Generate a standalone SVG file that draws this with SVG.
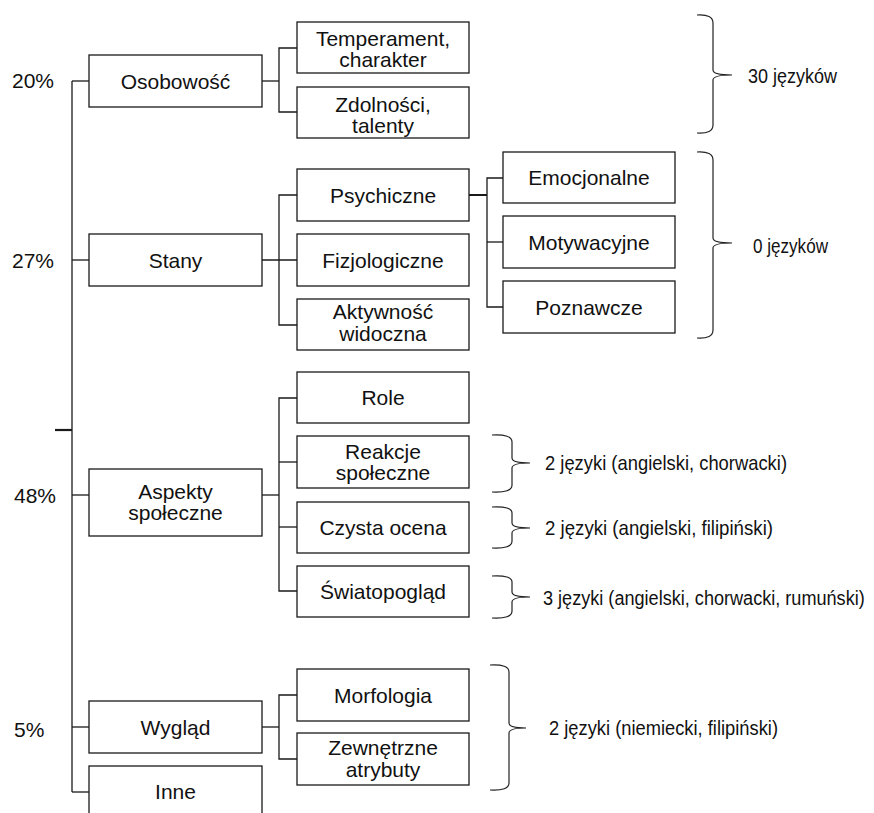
<svg xmlns="http://www.w3.org/2000/svg" width="874" height="813" viewBox="0 0 874 813">
<style>
rect.b{fill:#fff;stroke:#1a1a1a;stroke-width:1.3}
.c line,.c path{stroke:#1a1a1a;stroke-width:1.3;fill:none}
.br{stroke:#222;stroke-width:1.2;fill:none}
text{font-family:"Liberation Sans",Arial,sans-serif;font-size:21px;fill:#111}
text.m{text-anchor:middle}
text.n{font-size:21px}
</style>
<rect width="874" height="813" fill="#fff"/>
<g class="c" id="connectors">
<line x1="72" y1="81" x2="72" y2="792"/>
<line x1="55" y1="430" x2="72" y2="430" style="stroke-width:2.2"/>
<line x1="72" y1="81" x2="89" y2="81"/>
<line x1="72" y1="260" x2="89" y2="260"/>
<line x1="72" y1="495" x2="89" y2="495"/>
<line x1="72" y1="727" x2="89" y2="727"/>
<line x1="72" y1="792" x2="89" y2="792"/>
<line x1="262" y1="81" x2="279" y2="81"/>
<path d="M297,48 H279 V112 H297"/>
<line x1="262" y1="260" x2="297" y2="260"/>
<path d="M297,195 H279 V325 H297"/>
<line x1="469" y1="195" x2="487" y2="195" style="stroke-width:2"/>
<path d="M503,178 H487 V307 H503"/>
<line x1="487" y1="242" x2="503" y2="242"/>
<line x1="262" y1="495" x2="279" y2="495"/>
<path d="M297,398 H279 V591 H297"/>
<line x1="279" y1="462" x2="297" y2="462"/>
<line x1="279" y1="527" x2="297" y2="527"/>
<line x1="262" y1="727" x2="279" y2="727"/>
<path d="M297,695 H279 V759 H297"/>
</g>
<text x="12" y="88">20%</text>
<text x="12" y="268">27%</text>
<text x="14" y="503">48%</text>
<text x="14" y="737">5%</text>
<g id="osobowosc"><rect class="b" x="89" y="55" width="173" height="52"/><text class="m" x="175.5" y="88.5">Osobowość</text></g>
<g id="stany"><rect class="b" x="89" y="234" width="173" height="52"/><text class="m" x="175.5" y="267.5">Stany</text></g>
<g id="aspekty"><rect class="b" x="89" y="469" width="173" height="67"/><text class="m" x="175.5" y="499">Aspekty</text><text class="m" x="175.5" y="520">społeczne</text></g>
<g id="wyglad"><rect class="b" x="89" y="701" width="173" height="52"/><text class="m" x="175.5" y="734.5">Wygląd</text></g>
<g id="inne"><rect class="b" x="89" y="766" width="173" height="60"/><text class="m" x="175.5" y="799">Inne</text></g>
<g id="temperament"><rect class="b" x="297" y="22" width="172" height="51"/><text class="m" x="383" y="46">Temperament,</text><text class="m" x="383" y="67">charakter</text></g>
<g id="zdolnosci"><rect class="b" x="297" y="87" width="172" height="51"/><text class="m" x="383" y="112">Zdolności,</text><text class="m" x="383" y="133">talenty</text></g>
<g id="psychiczne"><rect class="b" x="297" y="169" width="172" height="52"/><text class="m" x="383" y="202.5">Psychiczne</text></g>
<g id="fizjologiczne"><rect class="b" x="297" y="234" width="172" height="52"/><text class="m" x="383" y="267.5">Fizjologiczne</text></g>
<g id="aktywnosc"><rect class="b" x="297" y="299" width="172" height="51"/><text class="m" x="383" y="319">Aktywność</text><text class="m" x="383" y="341">widoczna</text></g>
<g id="emocjonalne"><rect class="b" x="503" y="152" width="172" height="51"/><text class="m" x="589" y="185">Emocjonalne</text></g>
<g id="motywacyjne"><rect class="b" x="503" y="216" width="172" height="52"/><text class="m" x="589" y="249.5">Motywacyjne</text></g>
<g id="poznawcze"><rect class="b" x="503" y="281" width="172" height="52"/><text class="m" x="589" y="314.5">Poznawcze</text></g>
<g id="role"><rect class="b" x="297" y="372" width="172" height="51"/><text class="m" x="383" y="405">Role</text></g>
<g id="reakcje"><rect class="b" x="297" y="436" width="172" height="52"/><text class="m" x="383" y="459">Reakcje</text><text class="m" x="383" y="480">społeczne</text></g>
<g id="czysta"><rect class="b" x="297" y="502" width="172" height="51"/><text class="m" x="383" y="535">Czysta ocena</text></g>
<g id="swiatopoglad"><rect class="b" x="297" y="566" width="172" height="51"/><text class="m" x="383" y="599">Światopogląd</text></g>
<g id="morfologia"><rect class="b" x="297" y="669" width="172" height="52"/><text class="m" x="383" y="702.5">Morfologia</text></g>
<g id="zewnetrzne"><rect class="b" x="297" y="733" width="172" height="52"/><text class="m" x="383" y="755">Zewnętrzne</text><text class="m" x="383" y="777">atrybuty</text></g>
<g id="braces">
<path class="br" d="M697,15 Q713,14 713,23 L713,70 Q713,75 732,75 Q713,75 713,80 L713,125 Q713,134 697,133"/>
<path class="br" d="M697,152 Q713,151 713,160 L713,238 Q713,243 732,243 Q713,243 713,248 L713,330 Q713,339 697,338"/>
<path class="br" d="M492,435 Q512,434 512,442 L512,458 Q512,463 530,463 Q512,463 512,468 L512,485 Q512,493 492,492"/>
<path class="br" d="M492,507 Q512,506 512,513 L512,523 Q512,528 530,528 Q512,528 512,533 L512,541 Q512,549 492,548"/>
<path class="br" d="M492,576 Q512,575 512,582 L512,592 Q512,597 530,597 Q512,597 512,602 L512,611 Q512,619 492,618"/>
<path class="br" d="M490,665 Q509,664 509,672 L509,723 Q509,728 526,728 Q509,728 509,733 L509,783 Q509,791 490,790"/>
</g>
<text class="n" x="748" y="83" textLength="89" lengthAdjust="spacingAndGlyphs">30 języków</text>
<text class="n" x="753" y="253" textLength="75" lengthAdjust="spacingAndGlyphs">0 języków</text>
<text class="n" x="545" y="470" textLength="242" lengthAdjust="spacingAndGlyphs">2 języki (angielski, chorwacki)</text>
<text class="n" x="545" y="535" textLength="228" lengthAdjust="spacingAndGlyphs">2 języki (angielski, filipiński)</text>
<text class="n" x="0" y="0" transform="translate(543,605) scale(0.862,1)">3 języki (angielski, chorwacki, rumuński)</text>
<text class="n" x="549" y="735" textLength="229" lengthAdjust="spacingAndGlyphs">2 języki (niemiecki, filipiński)</text>
</svg>
